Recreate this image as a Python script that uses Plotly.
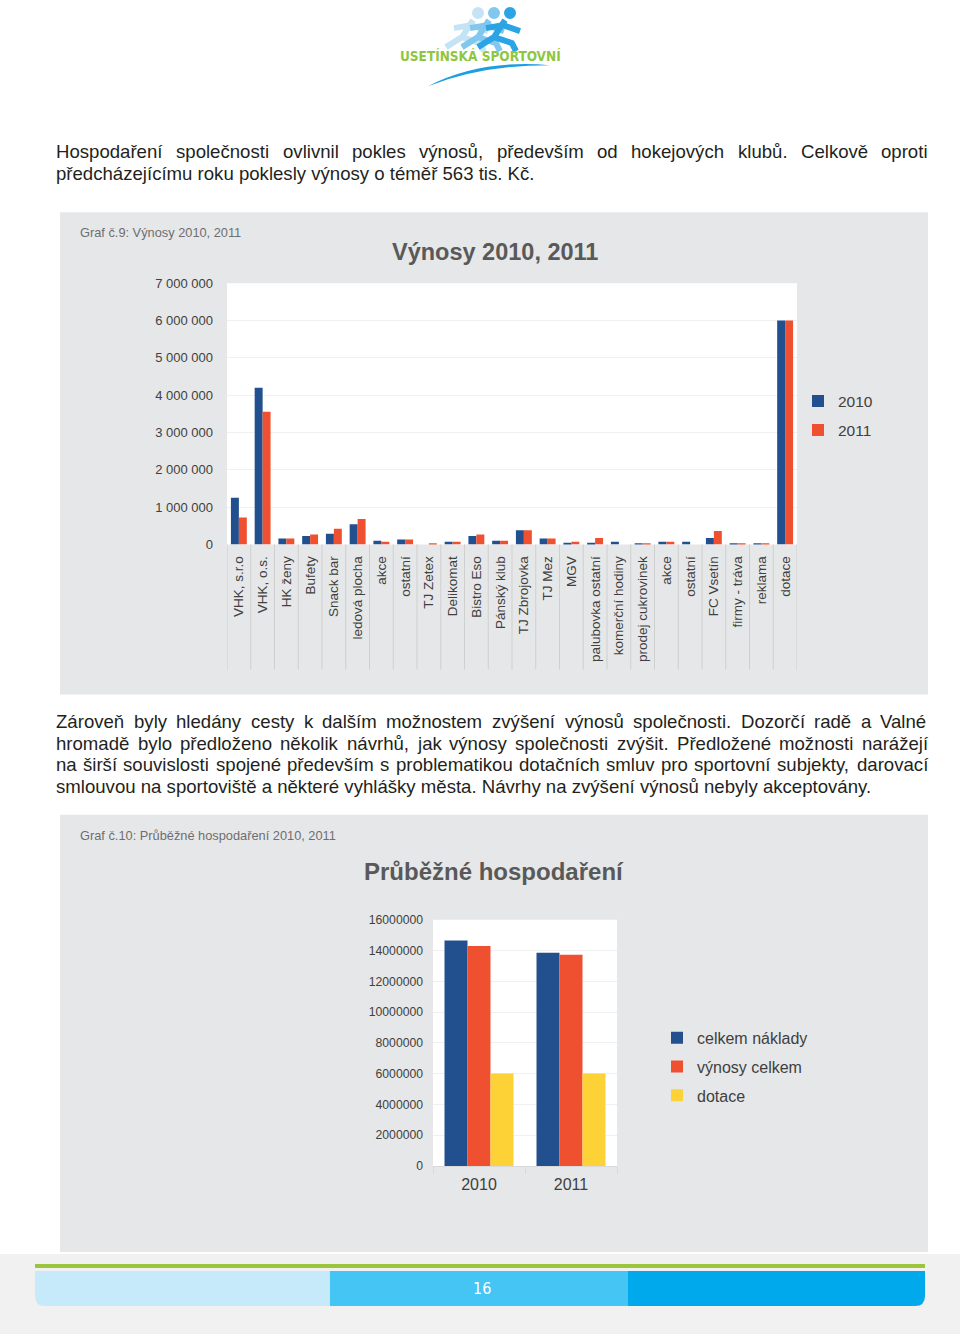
import plotly.graph_objects as go

# ---------------- data ----------------
categories = ["VHK, s.r.o", "VHK, o.s.", "HK ženy", "Bufety", "Snack bar", "ledová plocha",
              "akce", "ostatní", "TJ Zetex", "Delikomat", "Bistro Eso", "Pánský klub",
              "TJ Zbrojovka", "TJ Mez", "MGV", "palubovka ostatní", "komerční hodiny",
              "prodej cukrovinek", "akce", "ostatní", "FC Vsetín", "firmy - tráva",
              "reklama", "dotace"]
vynosy_2010 = [1250000, 4200000, 160000, 230000, 290000, 540000, 100000, 130000, 0, 70000,
               230000, 100000, 380000, 160000, 45000, 45000, 70000, 35000, 70000, 70000,
               170000, 5000, 35000, 6000000]
vynosy_2011 = [720000, 3560000, 160000, 270000, 420000, 680000, 70000, 130000, 35000, 70000,
               270000, 100000, 380000, 160000, 70000, 170000, 0, 35000, 70000, 0,
               360000, 5000, 35000, 6000000]
y1_tickvals = [0, 1000000, 2000000, 3000000, 4000000, 5000000, 6000000, 7000000]
y1_ticktext = ["0", "1 000 000", "2 000 000", "3 000 000", "4 000 000", "5 000 000",
               "6 000 000", "7 000 000"]

years = ["2010", "2011"]
celkem_naklady = [14650000, 13850000]
vynosy_celkem = [14300000, 13720000]
dotace = [6000000, 6000000]
y2_tickvals = [0, 2000000, 4000000, 6000000, 8000000, 10000000, 12000000, 14000000, 16000000]

BLUE = "#22508F"
ORANGE = "#EF5130"
YELLOW = "#FDD237"
PANEL = "#E6E7E8"
GREY_TXT = "#404040"

# layout helpers: reference-pixel coordinates -> paper coordinates
W, H = 960, 1342
OFF = 8
VS = 1350 / 1334
def px(x): return x / W
def py(y): return 1 - (y * VS - OFF) / H

# ---------------- figure ----------------
fig = go.Figure()
idx = list(range(len(categories)))
fig.add_trace(go.Bar(x=idx, y=vynosy_2010, name="2010", marker_color=BLUE, width=0.335,
                     offset=-0.335, xaxis="x", yaxis="y", legend="legend", legendgroup="a"))
fig.add_trace(go.Bar(x=idx, y=vynosy_2011, name="2011", marker_color=ORANGE, width=0.335,
                     offset=0, xaxis="x", yaxis="y", legend="legend", legendgroup="b"))
fig.add_trace(go.Bar(x=years, y=celkem_naklady, name="celkem náklady", marker_color=BLUE,
                     width=0.25, offset=-0.375, xaxis="x2", yaxis="y2", legend="legend2",
                     legendgroup="c"))
fig.add_trace(go.Bar(x=years, y=vynosy_celkem, name="výnosy celkem", marker_color=ORANGE,
                     width=0.25, offset=-0.125, xaxis="x2", yaxis="y2", legend="legend2",
                     legendgroup="d"))
fig.add_trace(go.Bar(x=years, y=dotace, name="dotace", marker_color=YELLOW,
                     width=0.25, offset=0.125, xaxis="x2", yaxis="y2", legend="legend2",
                     legendgroup="e"))
for t in fig.data:
    t.marker.line.width = 0
    t.hoverinfo = "skip"

FONT = "Liberation Sans, Arial, sans-serif"

shapes = []
# grey panels
shapes.append(dict(type="rect", xref="paper", yref="paper", x0=px(60), x1=px(928),
                   y0=py(695), y1=py(213), fillcolor=PANEL, line_width=0, layer="below"))
shapes.append(dict(type="rect", xref="paper", yref="paper", x0=px(60), x1=px(928),
                   y0=py(1252), y1=py(815), fillcolor=PANEL, line_width=0, layer="below"))
# white plot areas
shapes.append(dict(type="rect", xref="x domain", yref="y domain", x0=0, x1=1, y0=0, y1=1,
                   fillcolor="white", line_width=0, layer="below"))
shapes.append(dict(type="rect", xref="x2 domain", yref="y2 domain", x0=0, x1=1, y0=0, y1=1,
                   fillcolor="white", line_width=0, layer="below"))
# category separators under chart 1
for i in range(len(categories) + 1):
    shapes.append(dict(type="line", xref="x", yref="paper", x0=i - 0.5, x1=i - 0.5,
                       y0=py(670), y1=py(545), line=dict(color="#CFCFCF", width=1)))

# footer
shapes.append(dict(type="rect", xref="paper", yref="paper", x0=0, x1=1, y0=0, y1=py(1254),
                   fillcolor="#F1F1F1", line_width=0, layer="below"))
shapes.append(dict(type="rect", xref="paper", yref="paper", x0=px(35), x1=px(925),
                   y0=py(1268), y1=py(1264), fillcolor="#9BC53D", line_width=0))
shapes.append(dict(type="path", xref="paper", yref="paper",
                   path=f"M {px(35)},{py(1271)} L {px(330)},{py(1271)} L {px(330)},{py(1306)} "
                        f"L {px(45)},{py(1306)} Q {px(35)},{py(1306)} {px(35)},{py(1296)} Z",
                   fillcolor="#C6EAFA", line_width=0))
shapes.append(dict(type="rect", xref="paper", yref="paper", x0=px(330), x1=px(628),
                   y0=py(1306), y1=py(1271), fillcolor="#45C5F3", line_width=0))
shapes.append(dict(type="path", xref="paper", yref="paper",
                   path=f"M {px(628)},{py(1271)} L {px(925)},{py(1271)} L {px(925)},{py(1296)} "
                        f"Q {px(925)},{py(1306)} {px(915)},{py(1306)} L {px(628)},{py(1306)} Z",
                   fillcolor="#00A9EC", line_width=0))

# logo: arc and stylised runners
shapes.append(dict(type="path", xref="paper", yref="paper",
                   path=f"M {px(428)},{py(87)} Q {px(480)},{py(60)} {px(550)},{py(66)} "
                        f"Q {px(482)},{py(66)} {px(428)},{py(87)} Z",
                   fillcolor="#1C9FE0", line_width=0))
for (hx, col) in [(478, "#C4E3F5"), (494, "#82C7EE"), (510, "#2AA4E4")]:
    shapes.append(dict(type="circle", xref="paper", yref="paper", x0=px(hx - 6), x1=px(hx + 6),
                       y0=py(20), y1=py(8), fillcolor=col, line_width=0))
    shapes.append(dict(type="path", xref="paper", yref="paper",
                       path=f"M {px(hx-5)},{py(21)} L {px(hx-16)},{py(38)} L {px(hx-32)},{py(48)} "
                            f"M {px(hx-16)},{py(38)} L {px(hx+2)},{py(44)} L {px(hx+6)},{py(52)} "
                            f"M {px(hx-7)},{py(26)} L {px(hx+10)},{py(32)} "
                            f"M {px(hx-7)},{py(26)} L {px(hx-24)},{py(29)}",
                       line=dict(color=col, width=6)))

# ---------------- annotations ----------------
ann = []
def text(x, y, s, size, color="#231F20", bold=False, xanchor="left", family=FONT):
    ann.append(dict(x=px(x), y=py(y), xref="paper", yref="paper", text=(f"<b>{s}</b>" if bold else s),
                    showarrow=False, xanchor=xanchor, yanchor="middle",
                    font=dict(size=size, color=color, family=family)))

CW = {}
for c in "abdeghnopqu": CW[c] = 556
for c in "cksvxyz": CW[c] = 500
CW.update({"f": 278, "t": 278, "i": 222, "l": 222, "j": 222, "m": 833, "r": 333, "w": 722})
CW.update({"á": 556, "č": 500, "é": 556, "ě": 556, "í": 278, "ň": 556, "ó": 556, "ř": 333,
           "š": 500, "ú": 556, "ů": 556, "ý": 500, "ž": 500, "ť": 375, "ď": 600})
CW.update({"A": 667, "B": 667, "C": 722, "D": 722, "E": 667, "F": 611, "G": 778, "H": 722,
           "K": 667, "N": 722, "P": 667, "S": 667, "T": 611, "V": 667, "Z": 611})
CW.update({" ": 278, ",": 278, ".": 278, ":": 278, "-": 333})
for d in "0123456789": CW[d] = 556
def tw(s, size): return sum(CW.get(c, 556) for c in s) * size / 1000

BODY = 18.6
def justify(line, y, x0=54, x1=926, size=BODY):
    words = line.split(" ")
    ws = [tw(w, size) for w in words]
    gap = (x1 - x0 - sum(ws)) / (len(words) - 1)
    x = x0
    for w, wd in zip(words, ws):
        text(x, y, w, size)
        x += wd + gap

justify("Hospodaření společnosti ovlivnil pokles výnosů, především od hokejových klubů. Celkově oproti", 152)
text(54, 174, "předcházejícímu roku poklesly výnosy o téměř 563 tis. Kč.", BODY)
justify("Zároveň byly hledány cesty k dalším možnostem zvýšení výnosů společnosti. Dozorčí radě a Valné", 722)
justify("hromadě bylo předloženo několik návrhů, jak výnosy společnosti zvýšit. Předložené možnosti narážejí", 744)
justify("na širší souvislosti spojené především s problematikou dotačních smluv pro sportovní subjekty, darovací", 765)
text(54, 787, "smlouvou na sportoviště a některé vyhlášky města. Návrhy na zvýšení výnosů nebyly akceptovány.", BODY)

text(78, 233, "Graf č.9: Výnosy 2010, 2011", 12.8, color="#6D6E71")
text(78, 836, "Graf č.10: Průběžné hospodaření 2010, 2011", 12.8, color="#6D6E71")
text(495, 253, "Výnosy 2010, 2011", 23.5, color="#595959", bold=True, xanchor="center")
text(494, 872, "Průběžné hospodaření", 24, color="#595959", bold=True, xanchor="center")
text(480, 57, "USETÍNSKÁ SPORTOVNÍ", 13.5, color="#8DC63F", bold=True, xanchor="center",
     family="Liberation Sans Narrow, DejaVu Sans Condensed, sans-serif")
text(482, 1289, "16", 16, color="white", xanchor="center",
     family="Liberation Sans Narrow, DejaVu Sans Condensed, sans-serif")

fig.update_layout(
    width=W, height=H, margin=dict(l=0, r=0, t=0, b=0),
    paper_bgcolor="white", plot_bgcolor="white",
    barmode="overlay", showlegend=True,
    font=dict(family=FONT, color=GREY_TXT),
    shapes=shapes, annotations=ann,
    xaxis=dict(domain=[px(227), px(797)], anchor="y", range=[-0.5, len(categories) - 0.5],
               tickvals=idx, ticktext=categories, tickangle=-90, ticks="",
               tickfont=dict(size=13.5, color=GREY_TXT), showgrid=False, zeroline=False,
               showline=False, ticklabelstandoff=8, fixedrange=True),
    yaxis=dict(domain=[py(545), py(284)], anchor="x", range=[0, 7000000],
               tickvals=y1_tickvals, ticktext=y1_ticktext, tickfont=dict(size=13, color=GREY_TXT),
               showgrid=True, gridcolor="#F0F0F0", zeroline=False, showline=False,
               ticklabelstandoff=13, fixedrange=True),
    xaxis2=dict(domain=[px(433), px(617)], anchor="y2", type="category",
                tickfont=dict(size=16, color=GREY_TXT), showgrid=False, zeroline=False,
                showline=True, linecolor="#D9D9D9", ticks="outside", tickson="boundaries",
                ticklen=7, tickcolor="#D9D9D9", ticklabelstandoff=4, fixedrange=True),
    yaxis2=dict(domain=[py(1166), py(920)], anchor="x2", range=[0, 16000000],
                tickvals=y2_tickvals, tickformat="d", tickfont=dict(size=12.2, color=GREY_TXT),
                showgrid=True, gridcolor="#F0F0F0", zeroline=False, showline=False,
                ticklabelstandoff=9, fixedrange=True),
    legend=dict(x=px(798), y=py(385), xanchor="left", yanchor="top",
                font=dict(size=15.5, color=GREY_TXT), bgcolor="rgba(0,0,0,0)",
                tracegroupgap=6, itemwidth=30),
    legend2=dict(x=px(657), y=py(1021), xanchor="left", yanchor="top",
                 font=dict(size=16, color=GREY_TXT), bgcolor="rgba(0,0,0,0)",
                 tracegroupgap=5, itemwidth=30),
)

fig.write_html("out.html", config={"displayModeBar": False},
               post_script="document.body.style.margin='0';document.body.style.overflow='hidden';")
